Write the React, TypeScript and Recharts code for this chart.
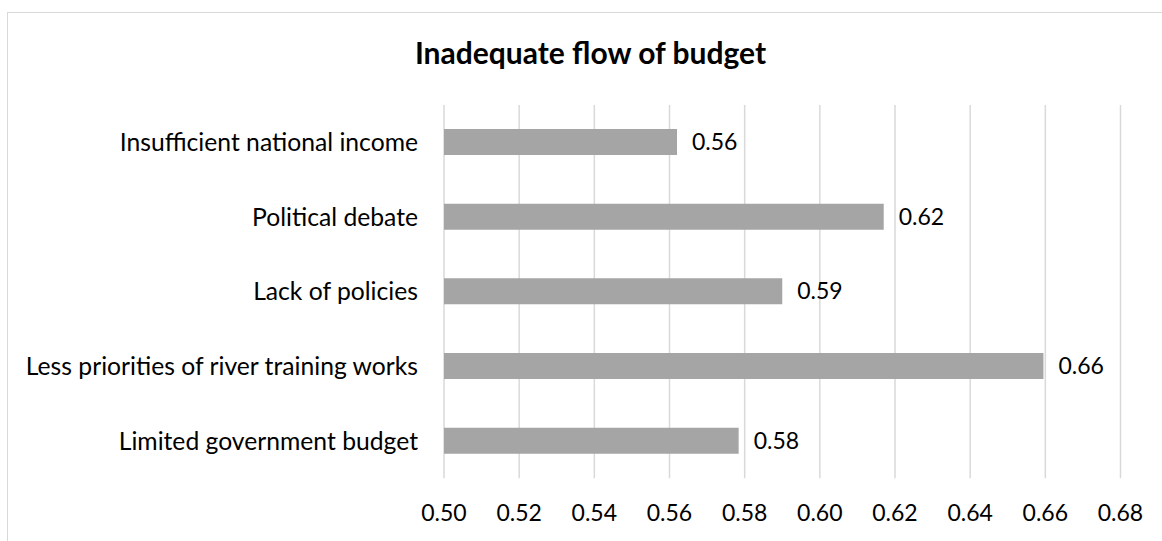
import React from "react";
import { BarChart, Bar, XAxis, YAxis, CartesianGrid, LabelList } from "recharts";

const categories = [
  "Insufficient national income",
  "Political debate",
  "Lack of policies",
  "Less priorities of river training works",
  "Limited government budget",
];
const values = [0.562, 0.617, 0.590, 0.6595, 0.5784];
const xTicks = [0.5, 0.52, 0.54, 0.56, 0.58, 0.6, 0.62, 0.64, 0.66, 0.68];
const title = "Inadequate flow of budget";

const data = categories.map((name, i) => ({ name, value: values[i] }));

const FONT = "Lato, 'Open Sans', sans-serif";

export default function App() {
  return (
    <div style={{ position: "absolute", left: 0, top: 0, width: 1162, height: 541, background: "#fff", overflow: "hidden" }}>
      <div
        style={{
          position: "absolute",
          left: 7,
          top: 12,
          width: 1200,
          height: 600,
          borderLeft: "1.5px solid #d9d9d9",
          borderTop: "1.5px solid #d9d9d9",
        }}
      />
      <div
        style={{
          position: "absolute",
          left: 0,
          top: 33,
          width: 1181,
          textAlign: "center",
          fontFamily: FONT,
          fontWeight: 700,
          fontSize: 30,
          color: "#000",
          lineHeight: "38px",
        }}
      >
        {title}
      </div>
      <div style={{ position: "absolute", left: 0, top: 0 }}>
        <BarChart
          width={1162}
          height={541}
          data={data}
          layout="vertical"
          margin={{ top: 105, right: 41.5, bottom: 22.7, left: 0 }}
        >
          <CartesianGrid vertical horizontal={false} stroke="#d9d9d9" strokeWidth={1.5} />
          <XAxis
            type="number"
            domain={[0.5, 0.68]}
            ticks={xTicks}
            allowDataOverflow
            tickFormatter={(v: number) => v.toFixed(2)}
            axisLine={false}
            tickLine={false}
            tickSize={0}
            tickMargin={26}
            height={40}
            tick={{ fontFamily: FONT, fontSize: 23, fill: "#000" }}
          />
          <YAxis
            type="category"
            dataKey="name"
            width={444}
            axisLine={false}
            tickLine={false}
            tickSize={0}
            tickMargin={26}
            tick={{ fontFamily: FONT, fontSize: 24.7, fill: "#000" }}
          />
          <Bar dataKey="value" fill="#a5a5a5" barSize={26} isAnimationActive={false}>
            <LabelList
              dataKey="value"
              position="right"
              offset={15}
              formatter={(v: number) => v.toFixed(2)}
              style={{ fontFamily: FONT, fontSize: 23, fill: "#000" }}
            />
          </Bar>
        </BarChart>
      </div>
    </div>
  );
}
